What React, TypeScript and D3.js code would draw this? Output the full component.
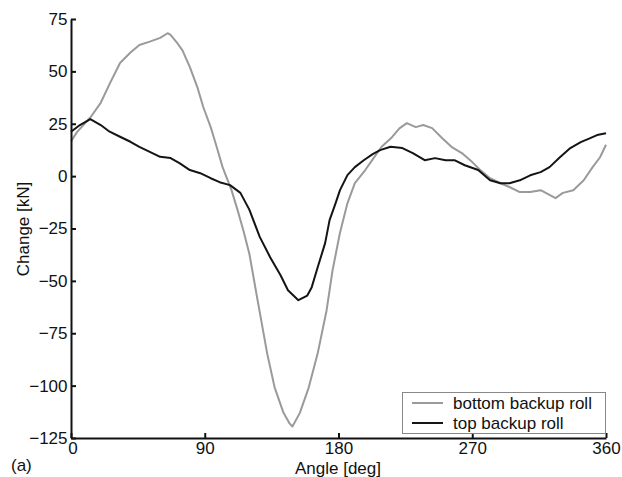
import React, { useEffect, useRef } from "react";
import * as d3 from "d3";

// bottom backup roll (gray)
const bottomAngle = [0, 4, 13, 20, 26, 33, 40, 46, 53, 60, 65, 67, 71, 75, 80, 85, 89, 94, 98, 102, 108, 112, 116, 120, 126, 132, 137, 143, 147, 149, 154, 160, 166, 172, 176, 181, 186, 191, 198, 203, 209, 216, 221, 226, 232, 237, 243, 250, 256, 263, 270, 275, 282, 289, 295, 302, 309, 316, 322, 326, 331, 338, 345, 351, 356, 360];
const bottomChange = [16.6, 21, 28, 35, 44, 54, 59, 62.6, 64.2, 66, 68.2, 67.4, 64, 60, 52, 42.5, 33, 23.4, 14, 4.3, -6.7, -16, -26, -37, -61, -84.6, -100.8, -113, -118, -119.5, -113, -100.8, -84.6, -64, -45, -27, -13, -3.3, 2.9, 8, 14, 18.6, 22.8, 25.3, 23.4, 24.4, 22.9, 18, 14, 11, 6.7, 3.2, -1, -3.4, -5.2, -7.6, -7.6, -6.7, -9, -10.5, -8, -6.7, -2, 4.3, 9, 15];

// top backup roll (black)
const topAngle = [0, 6, 13, 20, 26, 33, 40, 46, 53, 60, 67, 73, 80, 87, 94, 100, 107, 114, 120, 127, 134, 141, 146, 153, 159, 162, 166, 171, 174, 178, 181, 186, 191, 197, 203, 208, 215, 223, 230, 238, 245, 252, 258, 265, 274, 282, 289, 295, 302, 309, 316, 322, 329, 336, 343, 349, 354, 360];
const topChange = [21.2, 24.4, 27.2, 24.4, 21.2, 18.8, 16.4, 14, 11.6, 9.2, 8.6, 6.2, 2.9, 1.4, -1, -2.9, -4.3, -8, -16, -29, -38.7, -47.3, -54.5, -59.2, -57, -53, -43.5, -32, -21, -13, -6.7, 0.5, 4.3, 7.6, 10.5, 12.4, 14, 13.4, 11, 7.6, 8.6, 7.6, 7.6, 5.2, 2.9, -2, -3.4, -3.4, -2, 0.4, 1.9, 4.3, 9, 13.4, 16.2, 18, 19.6, 20.5];

const xTicks = [0, 90, 180, 270, 360];
const yTicks = [75, 50, 25, 0, -25, -50, -75, -100, -125];
const seriesNames = ["bottom backup roll", "top backup roll"];
const seriesColors = ["#9a9a9a", "#141414"];

const App = () => {
  const ref = useRef<SVGSVGElement>(null);

  useEffect(() => {
    const svg = d3.select(ref.current);
    svg.selectAll("*").remove();

    const left = 71, right = 606, top = 19, bottom = 438;
    const font = "'Liberation Sans', Arial, sans-serif";

    const x = d3.scaleLinear().domain([0, 360]).range([left, right]);
    const y = d3.scaleLinear().domain([-125, 75]).range([bottom, top]);

    const line = d3
      .line<[number, number]>()
      .x((d) => x(d[0]))
      .y((d) => y(d[1]));

    const series = [
      bottomAngle.map((a, i) => [a, bottomChange[i]] as [number, number]),
      topAngle.map((a, i) => [a, topChange[i]] as [number, number]),
    ];

    series.forEach((pts, i) => {
      svg
        .append("path")
        .attr("d", line(pts))
        .attr("fill", "none")
        .attr("stroke", seriesColors[i])
        .attr("stroke-width", 2)
        .attr("stroke-linejoin", "round");
    });

    // axes (ticks pointing inward)
    const xAxis = svg
      .append("g")
      .attr("transform", `translate(0,${bottom})`)
      .call(d3.axisBottom(x).tickValues(xTicks).tickSizeInner(-5).tickSizeOuter(0).tickPadding(4));
    const yAxis = svg
      .append("g")
      .attr("transform", `translate(${left},0)`)
      .call(d3.axisLeft(y).tickValues(yTicks).tickSizeInner(-5).tickSizeOuter(0).tickPadding(3));

    [xAxis, yAxis].forEach((g) => {
      g.select(".domain").attr("stroke", "#111").attr("stroke-width", 2);
      g.selectAll(".tick line").attr("stroke", "#111").attr("stroke-width", 2);
      g.selectAll(".tick text")
        .attr("fill", "#111")
        .style("font-family", font)
        .style("font-size", "17px");
    });
    yAxis.selectAll(".tick text").attr("x", -3.5);
    // keep the "0" under the corner clear of "-125"
    xAxis
      .selectAll<SVGTextElement, number>(".tick text")
      .filter((d) => d === 0)
      .attr("dx", 1.5);

    // legend
    const lg = svg.append("g");
    lg.append("rect")
      .attr("x", 402.5)
      .attr("y", 392.5)
      .attr("width", 203)
      .attr("height", 41)
      .attr("fill", "#fff")
      .attr("stroke", "#888")
      .attr("stroke-width", 1);
    seriesNames.forEach((name, i) => {
      const ly = 403 + i * 20;
      lg.append("line")
        .attr("x1", 412)
        .attr("x2", 443)
        .attr("y1", ly)
        .attr("y2", ly)
        .attr("stroke", seriesColors[i])
        .attr("stroke-width", 2);
      lg.append("text")
        .attr("x", 453)
        .attr("y", ly + 6)
        .attr("fill", "#111")
        .style("font-family", font)
        .style("font-size", "17px")
        .text(name);
    });

    // labels
    svg
      .append("text")
      .attr("x", 338)
      .attr("y", 474)
      .attr("text-anchor", "middle")
      .attr("fill", "#111")
      .style("font-family", font)
      .style("font-size", "17px")
      .text("Angle [deg]");

    svg
      .append("text")
      .attr("transform", "translate(29,229) rotate(-90)")
      .attr("text-anchor", "middle")
      .attr("fill", "#111")
      .style("font-family", font)
      .style("font-size", "17px")
      .text("Change [kN]");

    svg
      .append("text")
      .attr("x", 11)
      .attr("y", 471)
      .attr("fill", "#111")
      .style("font-family", font)
      .style("font-size", "17px")
      .text("(a)");
  }, []);

  return (
    <svg
      ref={ref}
      width={622}
      height={477}
      style={{ position: "absolute", left: 0, top: 0, background: "#fff" }}
    />
  );
};

export default App;
